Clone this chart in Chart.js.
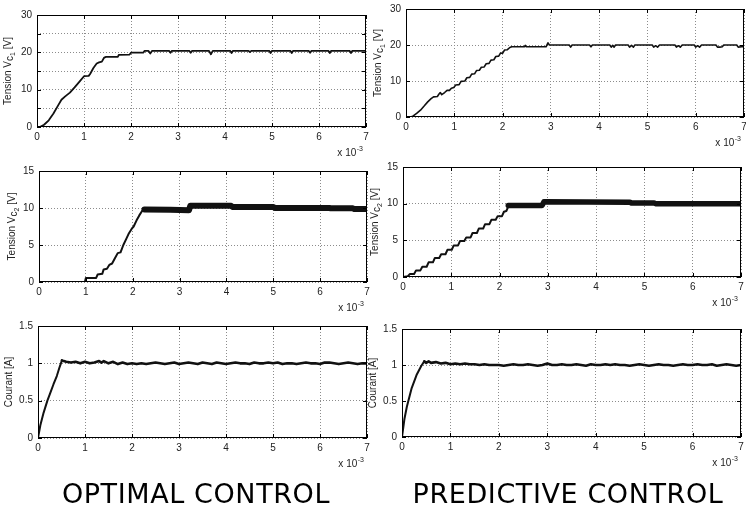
<!DOCTYPE html>
<html>
<head>
<meta charset="utf-8">
<script src="https://cdn.jsdelivr.net/npm/chart.js@4.4.0/dist/chart.umd.min.js"></script>
<style>
body { margin: 0; background: #fff; }
#wrap { position: relative; width: 746px; height: 505px; overflow: hidden; background: #fff; }
#wrap canvas { position: absolute; left: 0; top: 0; }
.cap { position: absolute; font-family: "DejaVu Sans"; font-weight: normal; font-size: 27px; letter-spacing: 0.6px;
       line-height: 1; color: #000; white-space: nowrap; transform: translateX(-50%); }
</style>
</head>
<body>
<div id="wrap">
  <canvas id="p1" width="746" height="505"></canvas>
  <canvas id="p2" width="746" height="505"></canvas>
  <canvas id="p3" width="746" height="505"></canvas>
  <canvas id="p4" width="746" height="505"></canvas>
  <canvas id="p5" width="746" height="505"></canvas>
  <canvas id="p6" width="746" height="505"></canvas>
  <div class="cap" style="left:196px; top:480px;">OPTIMAL CONTROL</div>
  <div class="cap" style="left:568px; top:480px;">PREDICTIVE CONTROL</div>
</div>
<script>
// time axis in ms (labels shown with "x 10^-3")
const xTicks = [0, 1, 2, 3, 4, 5, 6, 7];

// optimal control, Vc1
const optVc1T = [0, 0.06, 0.15, 0.25, 0.35, 0.45, 0.52, 0.6, 0.7, 0.8,
  0.9, 1.0, 1.1, 1.13, 1.2, 1.27, 1.32, 1.38, 1.43, 1.47,
  1.72, 1.74, 1.97, 2.0, 2.26, 2.29, 2.37, 2.41, 2.45,
  2.81, 2.84, 2.87, 3.24, 3.27, 3.30, 3.66, 3.70, 3.74, 4.11, 4.14, 4.17,
  4.5, 4.53, 4.56, 4.94, 4.97, 5.0, 5.39, 5.42, 5.45, 5.78, 5.81, 5.84,
  6.2, 6.23, 6.26, 6.65, 6.68, 6.71, 7.0];
const optVc1V = [0, 0, 0.6, 1.8, 3.6, 5.8, 7.3, 8.2, 9.2, 10.6,
  12.1, 13.6, 13.7, 14.2, 15.8, 17.0, 17.3, 17.5, 18.6, 18.8,
  18.8, 19.3, 19.4, 19.9, 19.9, 20.4, 20.4, 19.7, 20.4,
  20.4, 19.9, 20.4, 20.4, 19.9, 20.4, 20.4, 19.5, 20.4, 20.4, 19.8, 20.4,
  20.4, 20.1, 20.4, 20.4, 19.8, 20.4, 20.4, 19.8, 20.4, 20.4, 19.9, 20.4,
  20.4, 19.8, 20.4, 20.4, 19.8, 20.4, 20.4];

// predictive control, Vc1
const preVc1T = [0, 0.1, 0.15, 0.22, 0.3, 0.38, 0.45, 0.52, 0.57, 0.65,
  0.68, 0.71, 0.74, 0.8, 0.85, 0.9, 0.94, 0.99, 1.03, 1.1,
  1.14, 1.22, 1.26, 1.32, 1.36, 1.42, 1.46, 1.52, 1.56, 1.62,
  1.66, 1.72, 1.76, 1.82, 1.86, 1.92, 1.96, 2.0, 2.04, 2.1,
  2.15, 2.19, 2.45, 2.47, 2.49, 2.9, 2.94, 2.97, 3.38, 3.41,
  3.44, 3.8, 3.83, 3.86, 4.22, 4.25, 4.28, 4.31, 4.34, 4.6,
  4.63, 4.67, 4.71, 4.74, 5.1, 5.13, 5.17, 5.21, 5.25, 5.57,
  5.6, 5.64, 5.68, 5.72, 5.97, 6.0, 6.04, 6.08, 6.12, 6.42,
  6.45, 6.5, 6.55, 6.58, 6.85, 6.88, 6.95, 7.0];
const preVc1V = [0, 0, 0.3, 1.0, 1.9, 3.1, 4.2, 5.1, 5.6, 5.7,
  6.3, 6.8, 6.2, 6.8, 7.4, 7.4, 8.0, 8.2, 8.9, 9.0,
  9.9, 10.0, 10.9, 11.0, 11.9, 12.0, 12.9, 13.0, 13.8, 13.9,
  14.8, 14.9, 15.8, 15.9, 16.8, 16.9, 17.8, 17.7, 18.6, 18.7,
  19.3, 19.5, 19.5, 19.9, 19.5, 19.5, 20.6, 20.0, 20.0, 19.4,
  20.0, 20.0, 19.5, 20.0, 20.0, 19.4, 19.9, 19.4, 20.0, 20.0,
  19.4, 19.9, 19.4, 20.0, 20.0, 19.4, 19.8, 19.4, 20.0, 20.0,
  19.4, 19.8, 19.4, 20.0, 20.0, 19.4, 19.8, 19.4, 20.0, 20.0,
  19.4, 19.4, 19.5, 20.0, 20.0, 19.4, 19.5, 19.5];

// optimal control, Vc2 (rise, then rippling plateau)
const optVc2T = [0, 0.98, 1.0, 1.22, 1.25, 1.35, 1.38, 1.45, 1.5, 1.56,
  1.62, 1.68, 1.74, 1.8, 1.86, 1.92, 1.98, 2.02, 2.08, 2.14, 2.2, 2.25];
const optVc2V = [0, 0, 0.55, 0.55, 1.0, 1.1, 1.7, 1.8, 2.3, 2.5,
  3.2, 3.9, 4.0, 5.0, 5.8, 6.6, 7.2, 7.5, 8.3, 9.0, 9.6, 9.8];
const optVc2RippleT = [2.25, 2.8, 3.2, 3.23, 4.1, 4.13, 5.0, 5.03, 6.2, 6.23, 6.7, 6.73, 7.0];
const optVc2RippleV = [9.8, 9.75, 9.7, 10.3, 10.3, 10.15, 10.15, 10.0, 10.0, 9.95, 9.95, 9.85, 9.85];

// predictive control, Vc2
const preVc2T = [0, 0.1, 0.14, 0.23, 0.27, 0.36, 0.40, 0.49, 0.53, 0.62,
  0.66, 0.75, 0.79, 0.88, 0.92, 1.01, 1.05, 1.14, 1.18, 1.27,
  1.31, 1.40, 1.44, 1.53, 1.57, 1.66, 1.70, 1.79, 1.83, 1.92,
  1.96, 2.05, 2.09, 2.14, 2.18];
const preVc2V = [0, 0.1, 0.4, 0.4, 0.9, 0.9, 1.4, 1.4, 2.0, 2.0,
  2.6, 2.6, 3.1, 3.1, 3.7, 3.7, 4.3, 4.3, 4.9, 4.9,
  5.4, 5.4, 6.0, 6.0, 6.6, 6.6, 7.2, 7.2, 7.8, 7.8,
  8.3, 8.3, 8.9, 9.0, 9.6];
const preVc2RippleT = [2.18, 2.88, 2.92, 4.7, 4.73, 5.2, 5.23, 7.0];
const preVc2RippleV = [9.75, 9.75, 10.25, 10.2, 10.1, 10.1, 10.0, 10.0];

// optimal control, current
const optIRampT = [0, 0.05, 0.12, 0.2, 0.26, 0.33, 0.4, 0.46, 0.51];
const optIRampV = [0, 0.17, 0.34, 0.5, 0.6, 0.72, 0.83, 0.95, 1.04];
const optINoiseT = [0.51, 0.55, 0.6, 0.7, 0.8, 0.9, 1.0, 1.1, 1.2, 1.3, 1.35, 1.4, 1.5,
  1.6, 1.7, 1.8, 1.9, 2.0, 2.1, 2.2, 2.3, 2.4, 2.5,
  2.6, 2.7, 2.8, 2.9, 3.0, 3.1, 3.2, 3.3, 3.4, 3.5,
  3.6, 3.7, 3.8, 3.9, 4.0, 4.1, 4.2, 4.3, 4.4, 4.5,
  4.6, 4.7, 4.8, 4.9, 5.0, 5.1, 5.2, 5.3, 5.4, 5.5,
  5.6, 5.7, 5.8, 5.9, 6.0, 6.1, 6.2, 6.3, 6.4, 6.5,
  6.6, 6.7, 6.8, 6.9, 7.0];
const optINoiseV = [1.04, 1.03, 1.02, 1.01, 1.02, 1.00, 1.02, 1.00, 1.01, 1.03, 1.01, 1.03, 1.00,
  1.02, 0.99, 1.01, 0.99, 1.00, 0.99, 1.00, 0.99, 1.00, 1.01,
  1.00, 0.99, 1.00, 1.01, 0.99, 1.00, 1.01, 1.00, 0.99, 1.01,
  1.00, 0.99, 1.01, 1.00, 0.99, 1.00, 1.01, 1.00, 1.00, 0.99,
  1.01, 1.00, 1.00, 1.01, 1.00, 1.01, 0.99, 1.00, 1.00, 0.99,
  1.00, 1.01, 1.00, 1.00, 0.99, 1.01, 1.01, 1.00, 0.99, 1.00,
  1.01, 1.00, 0.99, 1.00, 1.00];

// predictive control, current
const preIRampT = [0, 0.05, 0.1, 0.2, 0.3, 0.4, 0.46];
const preIRampV = [0, 0.25, 0.42, 0.68, 0.86, 0.99, 1.05];
const preINoiseT = [0.46, 0.5, 0.55, 0.6, 0.7, 0.8, 0.9, 1.0, 1.1, 1.2, 1.3, 1.4, 1.5,
  1.6, 1.7, 1.8, 1.9, 2.0, 2.1, 2.2, 2.3, 2.4, 2.5,
  2.6, 2.7, 2.8, 2.9, 3.0, 3.1, 3.2, 3.3, 3.4, 3.5,
  3.6, 3.7, 3.8, 3.9, 4.0, 4.1, 4.2, 4.3, 4.4, 4.5,
  4.6, 4.7, 4.8, 4.9, 5.0, 5.1, 5.2, 5.3, 5.4, 5.5,
  5.6, 5.7, 5.8, 5.9, 6.0, 6.1, 6.2, 6.3, 6.4, 6.5,
  6.6, 6.7, 6.8, 6.9, 7.0];
const preINoiseV = [1.05, 1.03, 1.05, 1.03, 1.04, 1.02, 1.03, 1.01, 1.02, 1.01, 1.02, 1.01, 1.01,
  1.00, 1.01, 1.00, 1.00, 1.00, 0.99, 1.00, 1.01, 1.00, 1.00,
  1.01, 1.00, 0.99, 1.00, 1.02, 1.00, 1.00, 1.01, 1.00, 1.00,
  1.01, 1.00, 0.99, 1.01, 1.00, 1.00, 1.01, 1.00, 1.01, 1.00,
  1.00, 0.99, 1.00, 1.01, 1.00, 0.99, 1.00, 1.01, 1.00, 1.00,
  0.99, 1.00, 1.01, 1.00, 1.00, 1.01, 1.00, 1.00, 1.01, 0.99,
  1.00, 1.01, 1.00, 0.99, 1.00];

const W = 746, H = 505;
const YW = 34, XH = 14;
const tickFont = { family: 'Liberation Sans, Arial, sans-serif', size: 10 };

function pts(t, v) {
  return t.map((x, i) => ({ x: x, y: v[i] }));
}

function line(t, v, width) {
  return {
    data: pts(t, v),
    borderColor: '#111',
    borderWidth: width,
    pointRadius: 0,
    tension: 0,
    borderJoinStyle: 'round',
    borderCapStyle: 'round'
  };
}

// frame, inward ticks, y title and the "x 10^-3" note
function panelDeco(p) {
  return {
    id: 'deco',
    afterDatasetsDraw(chart) {
      const ctx = chart.ctx;
      const a = chart.chartArea;
      const sx = chart.scales.x, sy = chart.scales.y;
      ctx.save();
      ctx.strokeStyle = '#000';
      ctx.lineWidth = 1;
      ctx.strokeRect(a.left + 0.5, a.top + 0.5, a.right - a.left - 1, a.bottom - a.top - 1);
      ctx.beginPath();
      sx.ticks.forEach(tk => {
        const px = Math.round(sx.getPixelForValue(tk.value)) + 0.5;
        ctx.moveTo(px, a.bottom); ctx.lineTo(px, a.bottom - 4);
        ctx.moveTo(px, a.top); ctx.lineTo(px, a.top + 4);
      });
      sy.ticks.forEach(tk => {
        const py = Math.round(sy.getPixelForValue(tk.value)) + 0.5;
        ctx.moveTo(a.left, py); ctx.lineTo(a.left + 4, py);
        ctx.moveTo(a.right, py); ctx.lineTo(a.right - 4, py);
      });
      ctx.stroke();

      // y title, rotated, with subscripts
      ctx.fillStyle = '#222';
      ctx.textBaseline = 'alphabetic';
      const parts = p.title;
      let total = 0;
      parts.forEach(s => {
        ctx.font = s.size + 'px Liberation Sans, Arial, sans-serif';
        s.w = ctx.measureText(s.text).width;
        total += s.w;
      });
      ctx.translate(p.titleX + 3, (a.top + a.bottom) / 2);
      ctx.rotate(-Math.PI / 2);
      let x = -total / 2;
      parts.forEach(s => {
        ctx.font = s.size + 'px Liberation Sans, Arial, sans-serif';
        ctx.fillText(s.text, x, s.dy);
        x += s.w;
      });
      ctx.setTransform(1, 0, 0, 1, 0, 0);

      // exponent note
      ctx.font = '7px Liberation Sans, Arial, sans-serif';
      const ew = ctx.measureText('-3').width;
      const ex = a.right - 3 - ew;
      const by = a.bottom + 29;
      ctx.fillText('-3', ex, by - 5);
      ctx.font = '10px Liberation Sans, Arial, sans-serif';
      ctx.textAlign = 'right';
      ctx.fillText('x 10', ex - 0.5, by);
      ctx.restore();
    }
  };
}

function makePanel(p) {
  const [l, t, r, b] = p.area;
  return new Chart(document.getElementById(p.id), {
    type: 'line',
    data: { datasets: p.datasets },
    options: {
      responsive: false,
      animation: false,
      events: [],
      layout: { padding: { left: l - YW, top: t, right: W - r, bottom: H - b - XH } },
      plugins: { legend: { display: false }, tooltip: { enabled: false } },
      scales: {
        x: {
          type: 'linear',
          min: 0, max: 7,
          afterBuildTicks: s => { s.ticks = xTicks.map(v => ({ value: v })); },
          afterFit: s => { s.height = XH; s.paddingLeft = 0; s.paddingRight = 0; },
          ticks: { font: tickFont, color: '#222', padding: 4, maxRotation: 0, autoSkip: false,
                   callback: v => String(v) },
          grid: { color: '#8c8c8c', lineWidth: 1, drawTicks: false },
          border: { display: false, dash: [1, 2] }
        },
        y: {
          type: 'linear',
          min: 0, max: p.yMax,
          afterBuildTicks: s => { s.ticks = p.yTicks.map(v => ({ value: v })); },
          afterFit: s => { s.width = YW; s.paddingTop = 0; s.paddingBottom = 0; },
          ticks: { font: tickFont, color: '#222', padding: 5,
                   callback: v => (p.yLabels.includes(v) ? String(v) : '') },
          grid: { color: '#8c8c8c', lineWidth: 1, drawTicks: false },
          border: { display: false, dash: [1, 2] }
        }
      }
    },
    plugins: [panelDeco(p)]
  });
}

function vTitle(n) {
  return [
    { text: 'Tension V', size: 10, dy: 0 },
    { text: 'c', size: 10, dy: 1.5 },
    { text: n, size: 7, dy: 4 },
    { text: ' [V]', size: 10, dy: 0 }
  ];
}
const iTitle = [{ text: 'Courant [A]', size: 10, dy: 0 }];

makePanel({ id: 'p1', area: [37, 15, 366, 127], yMax: 30,
  yTicks: [0, 5, 10, 15, 20, 25, 30], yLabels: [0, 10, 20, 30],
  title: vTitle('1'), titleX: 8,
  datasets: [line(optVc1T, optVc1V, 1.8)] });

makePanel({ id: 'p2', area: [406, 9, 744, 117], yMax: 30,
  yTicks: [0, 10, 20, 30], yLabels: [0, 10, 20, 30],
  title: vTitle('1'), titleX: 378,
  datasets: [line(preVc1T, preVc1V, 1.6)] });

makePanel({ id: 'p3', area: [39, 171, 367, 282], yMax: 15,
  yTicks: [0, 5, 10, 15], yLabels: [0, 5, 10, 15],
  title: vTitle('2'), titleX: 12,
  datasets: [line(optVc2T, optVc2V, 2), line(optVc2RippleT, optVc2RippleV, 6)] });

makePanel({ id: 'p4', area: [403, 167, 741, 277], yMax: 15,
  yTicks: [0, 5, 10, 15], yLabels: [0, 5, 10, 15],
  title: vTitle('2'), titleX: 375,
  datasets: [line(preVc2T, preVc2V, 2), line(preVc2RippleT, preVc2RippleV, 5.5)] });

makePanel({ id: 'p5', area: [38, 326, 367, 438], yMax: 1.5,
  yTicks: [0, 0.5, 1, 1.5], yLabels: [0, 0.5, 1, 1.5],
  title: iTitle, titleX: 9,
  datasets: [line(optIRampT, optIRampV, 2), line(optINoiseT, optINoiseV, 2.6)] });

makePanel({ id: 'p6', area: [402, 329, 741, 437], yMax: 1.5,
  yTicks: [0, 0.5, 1, 1.5], yLabels: [0, 0.5, 1, 1.5],
  title: iTitle, titleX: 373,
  datasets: [line(preIRampT, preIRampV, 2), line(preINoiseT, preINoiseV, 2.6)] });
</script>
</body>
</html>
